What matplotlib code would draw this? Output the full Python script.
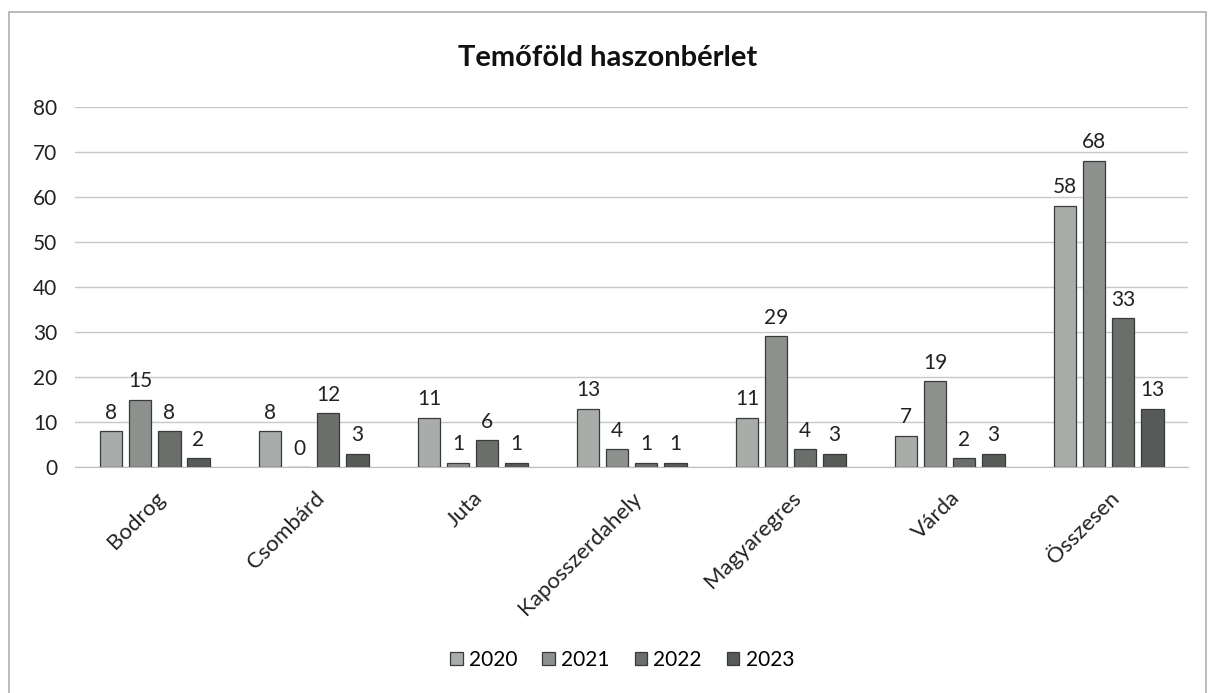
import numpy as np
import matplotlib
matplotlib.use("Agg")
import matplotlib.pyplot as plt
from matplotlib.patches import Rectangle

plt.rcParams["font.family"] = ["Lato", "DejaVu Sans"]

places = ["Bodrog", "Csombárd", "Juta", "Kaposszerdahely", "Magyaregres",
          "Várda", "Összesen"]
years = ["2020", "2021", "2022", "2023"]
v2020 = [8, 8, 11, 13, 11, 7, 58]
v2021 = [15, 0, 1, 4, 29, 19, 68]
v2022 = [8, 12, 6, 1, 4, 2, 33]
v2023 = [2, 3, 1, 1, 3, 3, 13]
series = [v2020, v2021, v2022, v2023]
colors = ["#a9ada9", "#8d918d", "#6b6f6b", "#575b57"]

fig = plt.figure(figsize=(12.15, 6.93), dpi=100)
ax = fig.add_axes([0.062, 0.326, 0.916, 0.52])

# outer chart border
fig.patches.append(Rectangle((0.007, -0.01), 0.986, 0.993, transform=fig.transFigure,
                             fill=False, ec="#b0b0b0", lw=1.2))

x = np.arange(len(places))
w = 0.14
step = 0.183
for i, (vals, c, yr) in enumerate(zip(series, colors, years)):
    pos = x + (i - 1.5) * step
    ax.bar(pos, vals, w, color=c, edgecolor="#3a3a3a", lw=0.9,
           label=yr, zorder=3)
    for xp, v in zip(pos, vals):
        ax.annotate(str(v), (xp, v), textcoords="offset points",
                    xytext=(0, 6), ha="center", va="bottom", fontsize=15,
                    color="#222222")

ax.set_ylim(0, 80)
ax.set_xlim(-0.5, len(places) - 0.5)
ax.set_yticks(range(0, 81, 10))
ax.tick_params(axis="y", length=0, labelsize=15, pad=13, colors="#222222")
ax.tick_params(axis="x", length=0, labelsize=16, pad=15, colors="#222222")
ax.set_xticks(x)
ax.set_xticklabels(places, rotation=45, ha="right", rotation_mode="anchor")
ax.grid(axis="y", color="#c8c8c8", lw=1.0, zorder=0)
for s in ["top", "right", "left"]:
    ax.spines[s].set_visible(False)
ax.spines["bottom"].set_color("#bdbdbd")

fig.text(0.5, 0.917, "Temőföld haszonbérlet", ha="center", va="center",
         fontsize=21, fontweight="bold", color="#111111")

fig.legend(loc="center", bbox_to_anchor=(0.512, 0.048), ncol=4, frameon=False,
           fontsize=15, handlelength=0.6, handleheight=0.6, handletextpad=0.3,
           columnspacing=1.2)

fig.savefig("out.png", dpi=100)
